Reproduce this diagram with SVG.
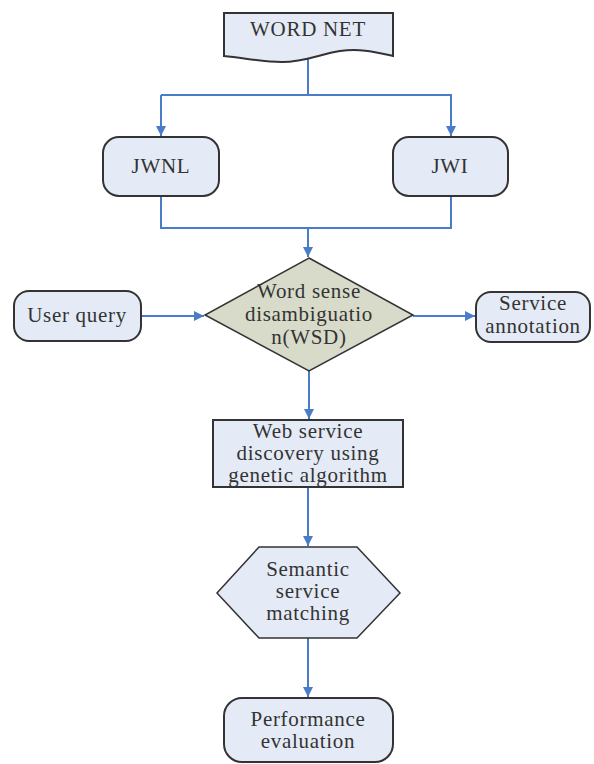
<svg xmlns="http://www.w3.org/2000/svg" width="594" height="764" viewBox="0 0 594 764">
<defs>
<marker id="arr" viewBox="0 0 10 10" refX="10" refY="5" markerWidth="10" markerHeight="10" markerUnits="userSpaceOnUse" orient="auto">
<path d="M0,0 L10,5 L0,10 z" fill="#4A7CC8"/>
</marker>
<style>
.n{fill:#E5EBF6;stroke:#333;stroke-width:2}
.d{fill:#D8DBC9;stroke:#333;stroke-width:1.5}
text{font-family:'Liberation Serif','DejaVu Serif',serif;font-size:21px;letter-spacing:0.7px;fill:#333;text-anchor:middle}
.c{fill:none;stroke:#4A7CC8;stroke-width:2;marker-end:url(#arr)}
.l{fill:none;stroke:#4A7CC8;stroke-width:2}
</style>
</defs>
<rect width="594" height="764" fill="#fff"/>
<g id="connectors">
<path class="l" d="M308,58 V95 M161,95 H452"/>
<path class="c" d="M161,95 V136"/>
<path class="c" d="M451,95 V136"/>
<path class="l" d="M161,196 V228 H451 V196"/>
<path class="c" d="M308,228 V257"/>
<path class="c" d="M141,316 H204"/>
<path class="c" d="M413,316 H475"/>
<path class="c" d="M309,371 V419"/>
<path class="c" d="M308,487 V546"/>
<path class="c" d="M308,638 V697"/>
</g>
<g id="wordnet">
<path class="n" d="M224,13 H393 V56 C375,52 360,48 340,51 C320,54 305,62 282,62 C262,62 245,58 224,56 Z"/>
<text x="308" y="36">WORD NET</text>
</g>
<g id="jwnl">
<rect class="n" x="103" y="137" width="116" height="59" rx="16"/>
<text x="161" y="173">JWNL</text>
</g>
<g id="jwi">
<rect class="n" x="393" y="137" width="115" height="59" rx="16"/>
<text x="450" y="173">JWI</text>
</g>
<g id="userquery">
<rect class="n" x="14" y="291" width="127" height="50" rx="15"/>
<text x="77" y="322">User query</text>
</g>
<g id="wsd">
<polygon class="d" points="309,258 413,315 309,371 205,315"/>
<text x="309" y="298">Word sense</text>
<text x="309" y="321">disambiguatio</text>
<text x="309" y="344">n(WSD)</text>
</g>
<g id="annotation">
<rect class="n" x="476" y="292" width="114" height="50" rx="15"/>
<text x="533" y="310">Service</text>
<text x="533" y="333">annotation</text>
</g>
<g id="discovery">
<rect class="n" x="213" y="420" width="190" height="67"/>
<text x="308" y="438">Web service</text>
<text x="308" y="460">discovery using</text>
<text x="308" y="482">genetic algorithm</text>
</g>
<g id="matching">
<polygon class="n" points="259,547 357,547 400,593 357,638 259,638 217,593" style="stroke-width:1.5"/>
<text x="308" y="576">Semantic</text>
<text x="308" y="598">service</text>
<text x="308" y="620">matching</text>
</g>
<g id="performance">
<rect class="n" x="224" y="698" width="169" height="64" rx="18"/>
<text x="308" y="726">Performance</text>
<text x="308" y="748">evaluation</text>
</g>
</svg>
